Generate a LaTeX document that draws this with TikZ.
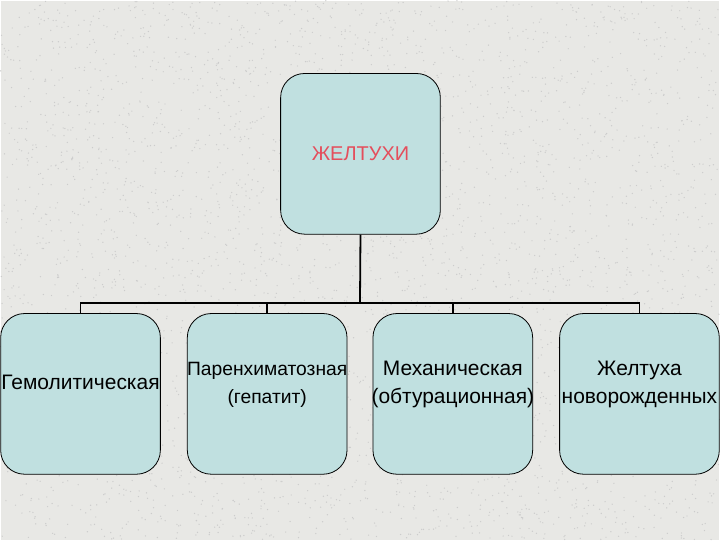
\documentclass[tikz,border=0pt]{standalone}
\usepackage{fontspec}
\setmainfont{Liberation Sans}
\definecolor{slide}{RGB}{232,232,229}
\definecolor{boxfill}{RGB}{192,224,224}
\definecolor{titlered}{RGB}{228,78,92}

\begin{document}
\begin{tikzpicture}[x=1pt, y=-1pt,
    box/.style={draw=black, line width=0.8pt, fill=boxfill, rounded corners=24pt,
                minimum width=160pt, minimum height=161pt, inner sep=0pt},
    lbl/.style={align=center, inner sep=0pt, font=\fontsize{21}{28}\selectfont},
    link/.style={draw=black, line width=1.8pt}]
% slide background with speckles
\fill [slide] (0,0) rectangle (720,540);
\pgfmathsetseed{7}
\foreach \i in {1,...,4000}
        \fill [black!20] (720*rnd,540*rnd) circle (0.7pt);
\useasboundingbox (0,0) rectangle (720,540);

\node[box] (root) at (360.5,153.5) {};
\node[lbl, text=titlered, font=\fontsize{20}{28}\selectfont] (roottxt) at (root.center) {ЖЕЛТУХИ};

\node[box] (hemo) at (80,394) {};
\node[box] (paren) at (267,394) {};
\node[box] (mech) at (453,394) {};
\node[box] (newb) at (640,394) {};

\node[lbl] (hemotxt) at ([yshift=12pt]hemo.center) {Гемолитическая};
\node[lbl, font=\fontsize{19.3}{28}\selectfont] (parentxt) at ([yshift=9pt]paren.center) {Паренхиматозная\\(гепатит)};
\node[lbl] (mechtxt) at ([yshift=9pt]mech.center) {Механическая\\(обтурационная)};
\node[lbl] (newbtxt) at ([yshift=9pt]newb.center) {Желтуха\\новорожденных};

% tree connectors
\coordinate (bar) at (360,303);
\draw[link] (root.south) -- (bar);
\draw[link] (hemo.north) -- (hemo.north |- bar) -| (newb.north);
\draw[link] (paren.north) -- (paren.north |- bar);
\draw[link] (mech.north) -- (mech.north |- bar);

\end{tikzpicture}
\end{document}
